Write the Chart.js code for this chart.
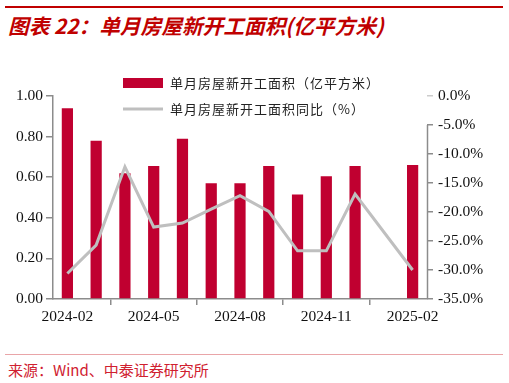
<!DOCTYPE html>
<html><head><meta charset="utf-8">
<script src="https://cdn.jsdelivr.net/npm/chart.js@4"></script>
<style>
html,body{margin:0;padding:0;background:#fff;width:509px;height:383px;overflow:hidden;position:relative}
#topline{position:absolute;left:5px;top:6px;width:498px;height:2px;background:#C00000}
#title{position:absolute;left:8px;top:11px;font:italic bold 20.7px "Noto Sans CJK SC",sans-serif;color:#C00000;white-space:nowrap;line-height:28px}
#wrap{position:absolute;left:0;top:40px;width:509px;height:300px}
#botline{position:absolute;left:5px;top:354px;width:498px;height:1px;background:#E9A5A8}
#src{position:absolute;left:8px;top:360px;font:15px "Noto Sans CJK SC",sans-serif;color:#D0202F;white-space:nowrap;line-height:20px}
</style></head><body>
<div id="topline"></div>
<div id="title">图表 22：单月房屋新开工面积(亿平方米)</div>
<div id="wrap"><canvas id="c" width="509" height="300"></canvas></div>
<div id="botline"></div>
<div id="src">来源：Wind、中泰证券研究所</div>
<script>
const categories = ['2024-02','2024-03','2024-04','2024-05','2024-06','2024-07','2024-08','2024-09','2024-10','2024-11','2024-12','2025-01','2025-02'];
const areaValues = [0.94,0.78,0.62,0.655,0.79,0.57,0.57,0.655,0.515,0.605,0.655,null,0.66];
const yoyValues = [-30.6,-25.7,-12.2,-22.6,-21.9,-19.5,-17.2,-19.9,-26.7,-26.7,-16.9,null,-30.0];
const leftTicks = [0,0.2,0.4,0.6,0.8,1.0];
const rightTicks = [0,-5,-10,-15,-20,-25,-30,-35];
const xLabelEvery = 3;
const seriesNames = ['单月房屋新开工面积（亿平方米）','单月房屋新开工面积同比（%）'];

const serif = '"Liberation Serif","Times New Roman",serif';
const axisColor = '#8C8C8C';

const legendPlugin = {
  id:'customLegend',
  afterDraw(chart){
    const ctx = chart.ctx;
    const bar = chart.data.datasets.find(d=>d.type==='bar');
    const line = chart.data.datasets.find(d=>d.type==='line');
    ctx.save();
    ctx.font = '13px "Noto Sans CJK SC",sans-serif';
    try{ctx.letterSpacing='1px';}catch(e){}
    ctx.textBaseline = 'middle';
    ctx.fillStyle = bar.backgroundColor;
    ctx.fillRect(123, 38, 40, 10);
    ctx.fillStyle = '#222';
    ctx.fillText(bar.label, 170, 43);
    ctx.strokeStyle = line.borderColor;
    ctx.lineWidth = 3;
    ctx.beginPath(); ctx.moveTo(123, 69); ctx.lineTo(163, 69); ctx.stroke();
    ctx.fillText(line.label, 170, 69);
    ctx.restore();
  }
};
const rightBorderPlugin = {
  id:'rightBorder',
  afterDraw(chart){
    const s = chart.scales.y1; const ctx = chart.ctx;
    ctx.save();
    ctx.strokeStyle = axisColor; ctx.lineWidth = 1.5;
    ctx.beginPath();
    ctx.moveTo(s.left+0.5, s.getPixelForValue(-5));
    ctx.lineTo(s.left+0.5, s.getPixelForValue(-35));
    ctx.stroke();
    ctx.restore();
  }
};

new Chart(document.getElementById('c'),{
  data:{
    labels:categories,
    datasets:[
      {type:'line',label:seriesNames[1],data:yoyValues,yAxisID:'y1',borderColor:'#BFBFBF',borderWidth:3,pointRadius:0,tension:0,spanGaps:true,order:0},
      {type:'bar',label:seriesNames[0],data:areaValues,yAxisID:'y',backgroundColor:'#C00030',barPercentage:0.39,categoryPercentage:1,order:1}
    ]
  },
  options:{
    responsive:false,animation:false,
    layout:{padding:{top:56,left:0,right:0,bottom:0}},
    plugins:{legend:{display:false},tooltip:{enabled:false}},
    scales:{
      x:{
        offset:true,
        grid:{offset:true,drawOnChartArea:false,color:axisColor,tickLength:6,lineWidth:1.5},
        border:{color:axisColor,width:1.5},
        ticks:{autoSkip:false,maxRotation:0,padding:3,color:'#111',font:{family:serif,size:15.5},
          callback:function(v,i){return i%xLabelEvery===0?categories[i]:null;}},
        afterFit:s=>{s.height=41;}
      },
      y:{
        position:'left',min:0,max:1,
        afterBuildTicks:s=>{s.ticks=leftTicks.map(v=>({value:v}));},
        grid:{drawOnChartArea:false,color:axisColor,tickLength:7,lineWidth:1.5},
        border:{color:axisColor,width:1.5},
        ticks:{padding:3,color:'#111',font:{family:serif,size:15.5},callback:v=>v.toFixed(2)},
        afterFit:s=>{s.width=53;}
      },
      y1:{
        position:'right',min:-35,max:0,
        afterBuildTicks:s=>{s.ticks=rightTicks.map(v=>({value:v}));},
        grid:{drawOnChartArea:false,color:ctx=>ctx.tick&&ctx.tick.value===0?'#CCCCCC':axisColor,tickLength:6,lineWidth:1.5},
        border:{display:false},
        ticks:{padding:5,color:'#111',font:{family:serif,size:15.5},callback:v=>v.toFixed(1)+'%'},
        afterFit:s=>{s.width=82;}
      }
    }
  },
  plugins:[legendPlugin,rightBorderPlugin]
});
</script>
</body></html>
